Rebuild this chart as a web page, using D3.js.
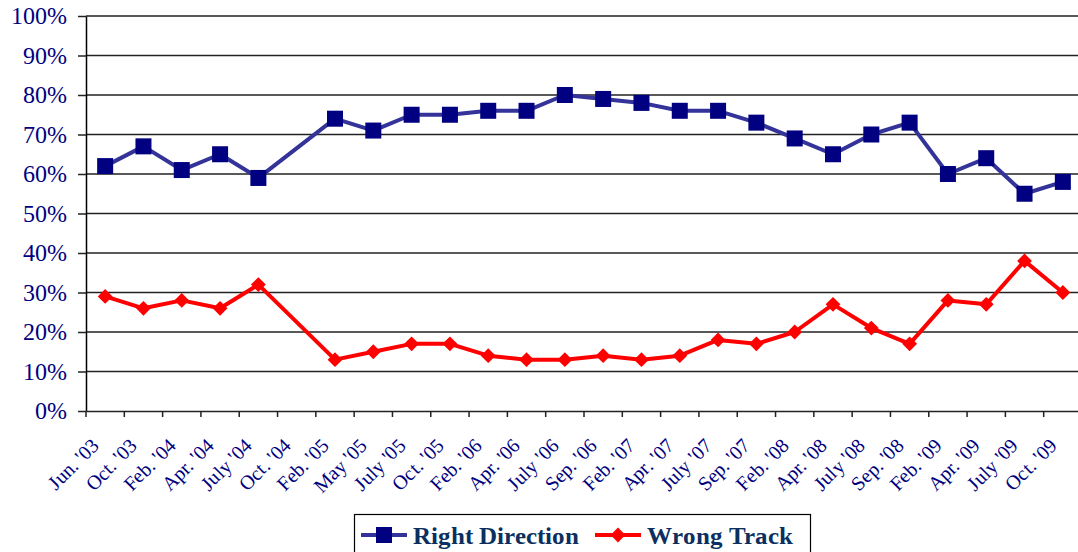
<!DOCTYPE html>
<html><head><meta charset="utf-8">
<script src="https://cdn.jsdelivr.net/npm/d3@7"></script>
<style>
@font-face { font-family: "ChartSerif"; src: local("Liberation Serif"), local("LiberationSerif"), local("Times New Roman"); font-weight: normal; }
@font-face { font-family: "ChartSerif"; src: local("Liberation Serif Bold"), local("LiberationSerif-Bold"), local("Times New Roman Bold"); font-weight: bold; }
svg text { font-family: "ChartSerif", "Liberation Serif", "Times New Roman", serif !important; }
</style>
</head><body>
<svg id="c" width="1078" height="552"></svg>
<script>
const categories = ["Jun. '03","Oct. '03","Feb. '04","Apr. '04","July '04","Oct. '04","Feb. '05","May '05","July '05","Oct. '05","Feb. '06","Apr. '06","July '06","Sep. '06","Feb. '07","Apr. '07","July '07","Sep. '07","Feb. '08","Apr. '08","July '08","Sep. '08","Feb. '09","Apr. '09","July '09","Oct. '09"];
const rightDirection = [62,67,61,65,59,null,74,71,75,75,76,76,80,79,78,76,76,73,69,65,70,73,60,64,55,58];
const wrongTrack = [29,26,28,26,32,null,13,15,17,17,14,13,13,14,13,14,18,17,20,27,21,17,28,27,38,30];
const yTicks = [0,10,20,30,40,50,60,70,80,90,100];
const seriesNames = ["Right Direction","Wrong Track"];

d3.select("body").style("margin", "0px");
const FONT = "Liberation Serif";
const FONTCSS = '"ChartSerif", "Liberation Serif", "Times New Roman", serif';
const svg = d3.select("#c").style("display", "block");
const L = 86, R = 1082, T = 16, B = 411;
const x = d3.scaleBand().domain(categories).range([L, R]).padding(0);
const y = d3.scaleLinear().domain([0, 100]).range([B, T]);
const navy = "#000080";

// gridlines
svg.append("g").selectAll("line").data(yTicks.filter(d => d > 0)).join("line")
  .attr("x1", L).attr("x2", R).attr("y1", d => y(d)).attr("y2", d => y(d))
  .attr("stroke", "#222").attr("stroke-width", 1.5);

// y axis
const yAxis = svg.append("g").attr("transform", `translate(${L},0)`)
  .call(d3.axisLeft(y).tickValues(yTicks).tickFormat(d => d + "%").tickSize(8).tickSizeOuter(0));
yAxis.attr("font-family", FONT).attr("font-size", null);
yAxis.select(".domain").attr("stroke", "#000").attr("stroke-width", 1.5);
yAxis.selectAll(".tick line").attr("stroke", "#222").attr("stroke-width", 1.5);
yAxis.selectAll(".tick text").attr("x", -19).attr("dy", "0.33em")
  .attr("fill", navy).attr("font-family", FONT).attr("font-size", 23.5)
  .style("font-family", FONTCSS, "important");

// x axis
const xAxis = svg.append("g").attr("transform", `translate(0,${B})`)
  .call(d3.axisBottom(x).tickSize(0).tickSizeOuter(0).tickFormat(""));
xAxis.attr("font-family", FONT);
xAxis.select(".domain").attr("stroke", "#222").attr("stroke-width", 1.5);
const bounds = categories.map(c => x(c));
svg.append("g").selectAll("line").data(bounds).join("line")
  .attr("x1", d => d).attr("x2", d => d).attr("y1", B).attr("y2", B + 6)
  .attr("stroke", "#222").attr("stroke-width", 1.5);
svg.append("g").attr("font-family", FONT).selectAll("text").data(categories).join("text")
  .attr("transform", d => `translate(${x(d) + x.bandwidth() / 2 - 5},${B + 36}) rotate(-45)`)
  .attr("text-anchor", "end").attr("fill", navy)
  .attr("font-family", FONT).attr("font-size", 20)
  .style("font-family", FONTCSS, "important")
  .text(d => d);

const cx = i => x(categories[i]) + x.bandwidth() / 2;
const rdPts = rightDirection.map((v, i) => [cx(i), v]).filter(p => p[1] != null);
const wtPts = wrongTrack.map((v, i) => [cx(i), v]).filter(p => p[1] != null);
const line = d3.line().x(p => p[0]).y(p => y(p[1]));

svg.append("path").datum(wtPts).attr("d", line)
  .attr("fill", "none").attr("stroke", "#ff0000").attr("stroke-width", 4).attr("stroke-linejoin", "round");
svg.append("path").datum(rdPts).attr("d", line)
  .attr("fill", "none").attr("stroke", "#333399").attr("stroke-width", 4).attr("stroke-linejoin", "round");

// markers
const diamond = d3.symbol().type(d3.symbolSquare).size(110);
svg.append("g").selectAll("path").data(wtPts).join("path")
  .attr("d", diamond).attr("transform", p => `translate(${p[0]},${y(p[1])}) rotate(45)`)
  .attr("fill", "#ff0000");
svg.append("g").selectAll("rect").data(rdPts).join("rect")
  .attr("x", p => p[0] - 8).attr("y", p => y(p[1]) - 8).attr("width", 16).attr("height", 16)
  .attr("fill", navy);

// legend
const lg = svg.append("g").attr("font-family", FONT);
lg.append("rect").attr("x", 354.5).attr("y", 514.5).attr("width", 456).attr("height", 50)
  .attr("fill", "#fff").attr("stroke", "#000").attr("stroke-width", 1.2);
const items = [
  {name: seriesNames[0], x0: 361, tx: 413, color: "#333399", marker: "sq"},
  {name: seriesNames[1], x0: 595, tx: 647, color: "#ff0000", marker: "dm"}
];
items.forEach(it => {
  lg.append("line").attr("x1", it.x0).attr("x2", it.x0 + 46).attr("y1", 535).attr("y2", 535)
    .attr("stroke", it.color).attr("stroke-width", 4);
  if (it.marker === "sq") {
    lg.append("rect").attr("x", it.x0 + 23 - 8).attr("y", 535 - 8).attr("width", 16).attr("height", 16).attr("fill", navy);
  } else {
    lg.append("path").attr("d", diamond).attr("transform", `translate(${it.x0 + 23},535) rotate(45)`).attr("fill", "#ff0000");
  }
  lg.append("text").attr("x", it.tx).attr("y", 544).attr("fill", "#0b2f5e")
    .attr("font-family", FONT).attr("font-weight", "bold").attr("font-size", 25)
    .style("font-family", FONTCSS, "important")
    .text(it.name);
});
</script>
</body></html>
